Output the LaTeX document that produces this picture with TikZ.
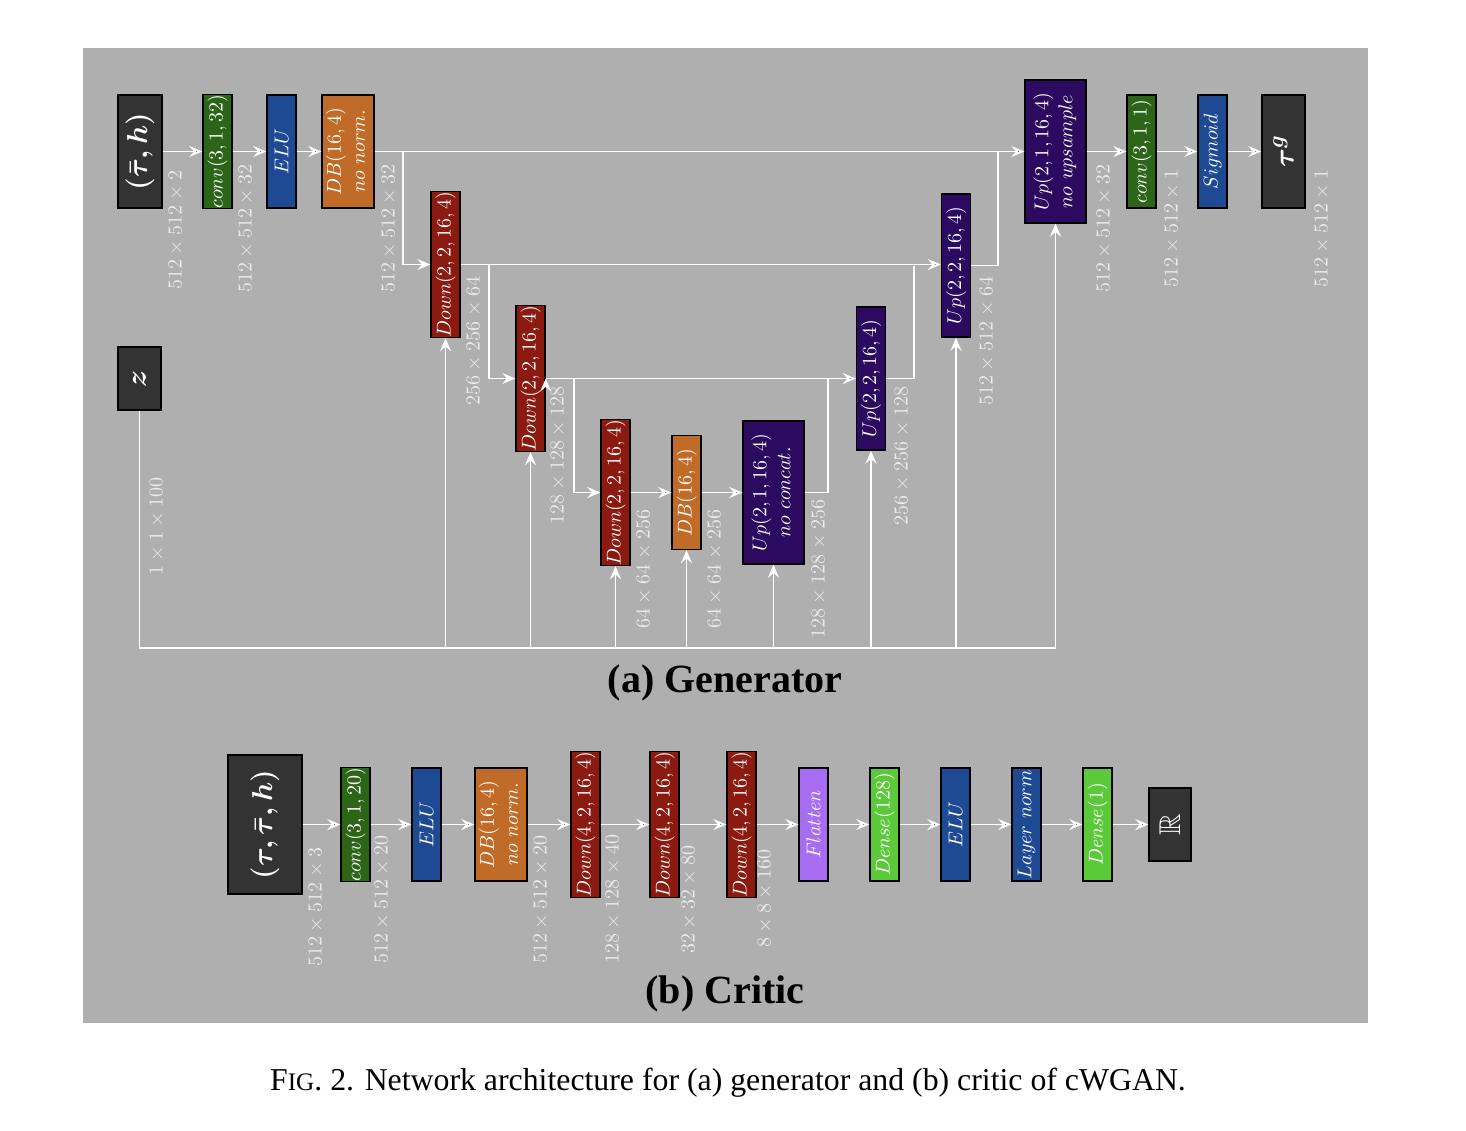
\documentclass[tikz,border=0pt]{standalone}
\usepackage{fontspec}
\usepackage{amsmath,amssymb}
\usepackage{graphicx}
\newfontfamily\capfont{Liberation Serif}
\usetikzlibrary{positioning, arrows.meta, calc}

\definecolor{bggray}{RGB}{175,175,175}
\definecolor{boxdark}{RGB}{51,51,51}
\definecolor{convgreen}{RGB}{44,100,24}
\definecolor{actblue}{RGB}{30,74,147}
\definecolor{dborange}{RGB}{192,107,39}
\definecolor{downred}{RGB}{139,26,16}
\definecolor{uppurple}{RGB}{43,10,95}
\definecolor{flatpurple}{RGB}{168,108,242}
\definecolor{densegreen}{RGB}{91,201,58}
\definecolor{dimtext}{RGB}{235,235,235}

\newcommand{\vlab}[1]{\rotatebox{90}{$#1$}}
\newcommand{\vtwo}[2]{\rotatebox{90}{\begin{tabular}{@{}c@{}}$#1$\\$#2$\end{tabular}}}

\tikzset{
  blk/.style={draw=black, line width=0.7pt, inner sep=0pt, text=white,
    minimum width=14.5pt, minimum height=56.5pt},
  tallblk/.style={blk, minimum height=71.5pt},
  inblk/.style={blk, fill=boxdark, font=\fontsize{15}{18}\selectfont},
  convblk/.style={blk, fill=convgreen},
  actblk/.style={blk, fill=actblue},
  dbblk/.style={blk, fill=dborange},
  downblk/.style={tallblk, fill=downred},
  upblk/.style={tallblk, fill=uppurple},
  flatblk/.style={blk, fill=flatpurple},
  denseblk/.style={blk, fill=densegreen},
  dim/.style={text=dimtext, rotate=90, inner sep=0pt},
  link/.style={draw=white, line width=0.9pt},
  title/.style={font=\capfont\bfseries\fontsize{20}{24}\selectfont},
}

\begin{document}
\begin{tikzpicture}[x=0.5pt, y=-0.5pt, on grid,
    >={Stealth[length=6.5pt,width=5.5pt,inset=2.3pt]}]
	\useasboundingbox (0,0) rectangle (1466,1130);
	\fill[white] (0,0) rectangle (1466,1130);
	\fill[bggray] (83,48) rectangle (1368,1023);
	
	% generator
	\node[inblk, minimum width=22pt] (in) at (140,151.5) {\vlab{\boldsymbol{(\bar{\tau},h)}}};
	\node[convblk] (c1) [right=38.75pt of in] {\vlab{conv(3,1,32)}};
	\node[actblk] (a1) [right=32pt of c1] {\vlab{ELU}};
	\node[dbblk, minimum width=26pt] (db1) [right=33.25pt of a1] {\vtwo{DB(16,4)}{no\ norm.}};
	\node[downblk] (d1) [below right=56.5pt and 48.75pt of db1] {\vlab{Down(2,2,16,4)}};
	\node[downblk] (d2) [below right=57pt and 42.5pt of d1] {\vlab{Down(2,2,16,4)}};
	\node[downblk] (d3) [below right=57pt and 42.5pt of d2] {\vlab{Down(2,2,16,4)}};
	\node[dbblk, minimum height=57pt] (dbb) [right=35.5pt of d3] {\vlab{DB(16,4)}};
	\node[upblk, minimum width=30.5pt] (upnc) [right=43.5pt of dbb] {\vtwo{Up(2,1,16,4)}{no\ concat.}};
	\node[upblk] (u1) [above right=57pt and 48.75pt of upnc] {\vlab{Up(2,2,16,4)}};
	\node[upblk] (u2) [above right=56.5pt and 42.5pt of u1] {\vlab{Up(2,2,16,4)}};
	\node[upblk, minimum width=30.5pt] (u0) [above right=57pt and 49.75pt of u2] {\vtwo{Up(2,1,16,4)}{no\ upsample}};
	\node[convblk] (c2) [right=43pt of u0] {\vlab{conv(3,1,1)}};
	\node[actblk] (sig) [right=35.5pt of c2] {\vlab{Sigmoid}};
	\node[inblk, minimum width=21.5pt] (out) [right=35.5pt of sig] {\vlab{\boldsymbol{\tau^g}}};
	\node[inblk, minimum width=21.5pt, minimum height=31.5pt] (z) at (139.5,378.5) {\vlab{\boldsymbol{z}}};
	\coordinate (bus) at (0,648);
	
	\path[link,->]
	(in) edge (c1)
	(c1) edge (a1)
	(a1) edge (db1)
	(db1.east) edge (db1.east -| u0.west)
	(d1.east) edge (d1.east -| u2.west)
	(d2.east) edge (d2.east -| u1.west)
	(d3) edge (dbb)
	(dbb) edge (upnc)
	(u0) edge (c2)
	(c2) edge (sig)
	(sig) edge (out);
	
	\draw[link,->] ($(db1.east)+(14pt,0)$) |- (d1.west);
	\draw[link,->] ($(d1.east)+(14pt,0)$) |- (d2.west);
	\draw[link,->] ($(d2.east)+(14pt,0)$) |- (d3.west);
	\draw[link] (upnc.east) -| ($(u1.west)+(-14pt,0)$);
	\draw[link] (u1.east) -| ($(u2.west)+(-13.5pt,0)$);
	\draw[link] (u2.east) -| ($(u0.west)+(-13pt,0)$);
	
	% noise bus
	\draw[link] (z.south) |- (u0.south |- bus);
	\foreach \n in {d1,d2,d3,dbb,upnc,u1,u2,u0}
	  \draw[link,->] (\n.south |- bus) -- (\n.south);
	
	% critic
	\node[inblk, minimum width=37pt, minimum height=69.5pt] (cin) at (265,824.5) {\vlab{\boldsymbol{(\tau,\bar{\tau},h)}}};
	\node[convblk] (cc) [right=45.25pt of cin] {\vlab{conv(3,1,20)}};
	\node[actblk] (ce) [right=35.5pt of cc] {\vlab{ELU}};
	\node[dbblk, minimum width=26pt] (cdb) [right=37.25pt of ce] {\vtwo{DB(16,4)}{no\ norm.}};
	\node[downblk] (cd1) [right=42.25pt of cdb] {\vlab{Down(4,2,16,4)}};
	\node[downblk] (cd2) [right=39.5pt of cd1] {\vlab{Down(4,2,16,4)}};
	\node[downblk] (cd3) [right=38.5pt of cd2] {\vlab{Down(4,2,16,4)}};
	\node[flatblk] (fl) [right=36pt of cd3] {\vlab{Flatten}};
	\node[denseblk] (de1) [right=35.5pt of fl] {\vlab{Dense(128)}};
	\node[actblk] (ce2) [right=35.5pt of de1] {\vlab{ELU}};
	\node[actblk] (ln) [right=35.5pt of ce2] {\vlab{Layer\ norm}};
	\node[denseblk] (de2) [right=35.5pt of ln] {\vlab{Dense(1)}};
	\node[inblk, minimum width=21pt, minimum height=36.5pt] (cr) [right=36.25pt of de2] {\vlab{\mathbb{R}}};
	
	\path[link,->]
	(cin) edge (cc)
	(cc) edge (ce)
	(ce) edge (cdb)
	(cdb) edge (cd1)
	(cd1) edge (cd2)
	(cd2) edge (cd3)
	(cd3) edge (fl)
	(fl) edge (de1)
	(de1) edge (ce2)
	(ce2) edge (ln)
	(ln) edge (de2)
	(de2) edge (cr);
	
	% tensor sizes
	\foreach \x/\y/\t [count=\i] in {
	    176/230/512\times512\times2, 246/228.5/512\times512\times32,
	    389/228.5/512\times512\times32, 474/341/256\times256\times64,
	    558/455.5/128\times128\times128, 644/569/64\times64\times256,
	    715/569/64\times64\times256, 819/569/128\times128\times256,
	    902/456/256\times256\times128, 987/341/512\times512\times64,
	    1104/228.5/512\times512\times32, 1172/228.5/512\times512\times1,
	    1322/228.5/512\times512\times1, 157/526.5/1\times1\times100,
	    316/907/512\times512\times3, 382/899.5/512\times512\times20,
	    541/899.5/512\times512\times20, 613/899/128\times128\times40,
	    689/899.5/32\times32\times80, 765/898.5/8\times8\times160}
	  \node[dim] (dim\i) at (\x,\y) {$\t$};
	
	\node[title] (gtitle) at (725,683) {(a) Generator};
	\node[title] (ctitle) at (725,994) {(b) Critic};
	\node[font=\capfont\fontsize{15.9}{19}\selectfont] (cap) at (728,1083)
	  {F{\fontsize{12.6}{15}\selectfont IG}. 2. Network architecture for (a) generator and (b) critic of cWGAN.};
\end{tikzpicture}
\end{document}
